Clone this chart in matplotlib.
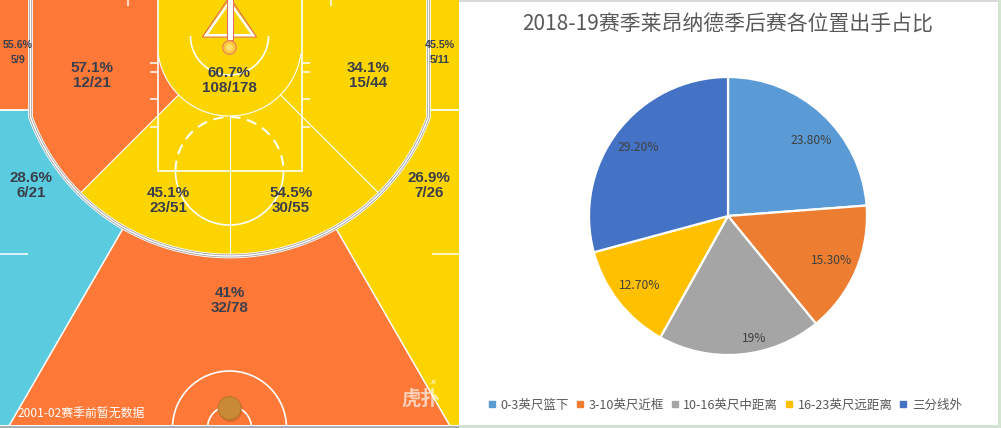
import numpy as np
import matplotlib
matplotlib.use('Agg')
import matplotlib.pyplot as plt
from matplotlib.patches import Polygon, Circle, Rectangle
from matplotlib.lines import Line2D

plt.rcParams['font.family'] = ['Noto Sans CJK SC', 'DejaVu Sans']

# ---------------- data ----------------
# shot chart zones (made / attempted)
zone_names = ['左侧底角三分', '左侧底线中距离', '篮下', '右侧底线中距离', '右侧底角三分',
              '左侧45度三分', '左侧肘区', '右侧肘区', '右侧45度三分', '弧顶三分']
zone_made = [5, 12, 108, 15, 5, 6, 23, 30, 7, 32]
zone_att = [9, 21, 178, 44, 11, 21, 51, 55, 26, 78]
court_note = '2001-02赛季前暂无数据'

# pie chart
pie_title = '2018-19赛季莱昂纳德季后赛各位置出手占比'
pie_labels = ['0-3英尺篮下', '3-10英尺近框', '10-16英尺中距离', '16-23英尺远距离', '三分线外']
pie_values = [23.8, 15.3, 19.0, 12.7, 29.2]
pie_texts = ['23.80%', '15.30%', '19%', '12.70%', '29.20%']

# ---------------- style / layout ----------------
ORANGE = '#FE7938'
YELLOW = '#FCD400'
CYAN = '#5BCCDF'
pie_colors = ['#5B9BD5', '#ED7D31', '#A5A5A5', '#FFC000', '#4472C4']
label_xy = [(18, 45), (92, 68), (229.5, 73), (368, 68), (440, 45),
            (31, 178), (168, 193), (291, 193), (429, 178), (229.5, 293)]
label_small = [True, False, False, False, True, False, False, False, False, False]
pie_label_dist = [0.81, 0.81, 0.90, 0.81, 0.81]
pie_label_rot = [-5, 0, 7, 0, 0]

W, H = 1001, 428
fig = plt.figure(figsize=(W / 100, H / 100), dpi=100)
fig.patch.set_facecolor('white')

# background axes for borders
bg = fig.add_axes([0, 0, 1, 1])
bg.set_xlim(0, W)
bg.set_ylim(H, 0)
bg.axis('off')
bg.add_patch(Rectangle((459, 0), 539, 1.6, color='#D9D9D9', lw=0))
bg.add_patch(Rectangle((997.5, 0), 4, H, color='#D3E6CF', lw=0))
bg.add_patch(Rectangle((459, 425), 542, 3, color='#D3E1D3', lw=0))
bg.add_patch(Rectangle((0, 425.5), 459, 3, color='#A9ADB1', lw=0))

# ---------------- court ----------------
ax = fig.add_axes([0, 3 / H, 459 / W, 425 / H])
ax.set_xlim(0, 459)
ax.set_ylim(425, 0)
ax.axis('off')
ax.add_patch(Rectangle((0, 0), 459, 430, color=YELLOW, lw=0, zorder=0))

cx, cy = 229.5, 44.0
R3, Rin = 212.0, 72.0
x3L, x3R = cx - 199, cx + 199
y_join = cy + np.sqrt(R3 ** 2 - 199 ** 2)
a_joinL = np.degrees(np.arctan2(y_join - cy, x3L - cx))


def arcp(r, a0, a1, n=80, c=(cx, cy)):
    a = np.radians(np.linspace(a0, a1, n))
    return np.column_stack([c[0] + r * np.cos(a), c[1] + r * np.sin(a)])


def ray(a, r):
    t = np.radians(a)
    return (cx + r * np.cos(t), cy + r * np.sin(t))


# left corner three (orange)
ax.add_patch(Rectangle((0, -2), 28.5, 111.5, color=ORANGE, lw=0, zorder=1))
# left wing three (cyan)
pts = [(-5, 110), (x3L, 110), (x3L, y_join)] + list(arcp(R3, a_joinL, 120)) + [ray(120, 480), (-5, 480)]
ax.add_patch(Polygon(pts, closed=True, color=CYAN, lw=0, zorder=1))
# top of key three (orange)
pts = list(arcp(R3, 120, 60)) + [ray(60, 480), ray(120, 480)]
ax.add_patch(Polygon(pts, closed=True, color=ORANGE, lw=0, zorder=1))
# left baseline mid-range (orange)
pts = [(x3L, -2), (157.5, -2), (157.5, cy)] + list(arcp(Rin, 180, 135)) + list(arcp(R3, 135, a_joinL)) + [(x3L, y_join)]
ax.add_patch(Polygon(pts, closed=True, color=ORANGE, lw=0, zorder=1))

WL = dict(color='white', solid_capstyle='butt', zorder=3)
# corner separators and side marks
ax.plot([0, 28.5], [109.5, 109.5], lw=1.3, **WL)
ax.plot([431, 459], [109.5, 109.5], lw=1.3, **WL)
ax.plot([0, 28], [254, 254], lw=1.1, **WL)
ax.plot([432, 459], [254, 254], lw=1.1, **WL)
ax.plot([128, 128], [0, 6], lw=1.1, **WL)
ax.plot([331, 331], [0, 6], lw=1.1, **WL)
# paint
ax.plot([157.5, 157.5, 302, 302], [0, 171, 171, 0], lw=1.2, color='white', zorder=3)
for yy in [63, 72, 99, 127]:
    ax.plot([150, 157.5], [yy, yy], lw=1.1, **WL)
    ax.plot([302, 309.5], [yy, yy], lw=1.1, **WL)
# restricted area
p = arcp(39, 0, 180, c=(cx, 36))
ax.plot(p[:, 0], p[:, 1], lw=1.2, **WL)
# inner zone arc
p = arcp(Rin, 8, 172)
ax.plot(p[:, 0], p[:, 1], lw=0.8, **WL)
# free throw circle
p = arcp(54, 0, 180, c=(cx, 171))
ax.plot(p[:, 0], p[:, 1], lw=1.2, **WL)
p = arcp(54, 180, 360, c=(cx, 171))
ax.plot(p[:, 0], p[:, 1], lw=1.5, color='white', dashes=(5, 3.2), zorder=3)
# zone rays
ax.plot([cx, cx], [cy + Rin, cy + R3], lw=0.8, **WL)
for a in (135, 45):
    q0, q1 = ray(a, Rin), ray(a, R3)
    ax.plot([q0[0], q1[0]], [q0[1], q1[1]], lw=0.8, **WL)
for a in (120, 60):
    q0, q1 = ray(a, R3), ray(a, 480)
    ax.plot([q0[0], q1[0]], [q0[1], q1[1]], lw=1.1, **WL)
# three point line (double line)
for dr, col, lw in [(0, 'white', 3.4), (-1.1, '#9C9C9C', 0.55), (1.1, '#9C9C9C', 0.55)]:
    xl, xr = x3L - dr, x3R + dr
    yj = cy + np.sqrt((R3 + dr) ** 2 - (199 + dr) ** 2)
    aL = np.degrees(np.arctan2(yj - cy, xl - cx))
    aR = np.degrees(np.arctan2(yj - cy, xr - cx))
    p = arcp(R3 + dr, aL, aR, n=200)
    xs = np.concatenate([[xl, xl], p[:, 0], [xr, xr]])
    ys = np.concatenate([[-3, yj], p[:, 1], [yj, -3]])
    ax.plot(xs, ys, color=col, lw=lw, zorder=4, solid_joinstyle='round')
# half court circles
for r in (57, 22):
    ax.add_patch(Circle((cx, 428), r, fill=False, ec='white', lw=1.2, zorder=3))
# ball
ax.add_patch(Circle((cx + 1, 410), 12, color='#6B4A20', alpha=0.25, lw=0, zorder=5))
ax.add_patch(Circle((cx, 408), 11.5, color='#C98A35', ec='#B07326', lw=0.6, zorder=6))
# backboard / basket
ax.add_patch(Polygon([(cx, -3), (cx - 27, 37), (cx + 27, 37)], closed=True,
                     fill=False, ec='#E2675E', lw=0.8, zorder=6))
ax.add_patch(Polygon([(cx, 2), (cx - 23.5, 35.2), (cx + 23.5, 35.2)], closed=True,
                     fill=False, ec='white', lw=1.8, zorder=6))
ax.add_patch(Rectangle((cx - 3, -2), 6, 42, fc='white', ec='#E2675E', lw=0.7, zorder=7))
ax.add_patch(Circle((cx, 47.5), 6.8, fc='#FDC93A', ec='#E9855A', lw=0.9, zorder=8))
ax.add_patch(Circle((cx, 47.5), 3.5, fc='#FFE070', ec='none', lw=0, zorder=8))

# zone labels
for (x, y), m, a, small in zip(label_xy, zone_made, zone_att, label_small):
    s = f"{100 * m / a:.1f}".rstrip('0').rstrip('.') + '%'
    fs = 7.7 if small else 10.9
    dy = 15 if small else 14.5
    ax.text(x, y, s, ha='center', va='center', fontsize=fs, fontweight='bold',
            color='#3B3F4B', family=['Liberation Sans'], zorder=9)
    ax.text(x, y + dy, f"{m}/{a}", ha='center', va='center', fontsize=fs, fontweight='bold',
            color='#3B3F4B', family=['Liberation Sans'], zorder=9)

ax.text(18, 414, court_note, ha='left', va='center', fontsize=8.6, color='white', zorder=9)
ax.text(421, 399, '虎扑', ha='center', va='center', fontsize=14, fontweight='bold',
        color='white', alpha=0.65, zorder=9)
ax.text(433, 383, 'JR', ha='center', va='center', fontsize=4, fontweight='bold',
        color='white', alpha=0.65, zorder=9)

# ---------------- pie ----------------
pcx, pcy, pr = 728, 216, 139
pax = fig.add_axes([(pcx - pr) / W, (H - pcy - pr) / H, 2 * pr / W, 2 * pr / H])
wedges, _ = pax.pie(pie_values, colors=pie_colors, startangle=90, counterclock=False,
                    wedgeprops=dict(edgecolor='white', linewidth=1.6))
pax.set_xlim(-1, 1)
pax.set_ylim(-1, 1)
pax.set_aspect('equal')
for w, t, d, rot in zip(wedges, pie_texts, pie_label_dist, pie_label_rot):
    ang = np.radians((w.theta1 + w.theta2) / 2 + rot)
    pax.text(d * np.cos(ang), d * np.sin(ang), t, ha='center', va='center',
             fontsize=8.7, color='#404040')

fig.text(pcx / W, 1 - 25 / H, pie_title, ha='center', va='center', fontsize=15, color='#595959')

handles = [Line2D([], [], marker='s', linestyle='none', markersize=4.8, color=c) for c in pie_colors]
fig.legend(handles, pie_labels, loc='center', bbox_to_anchor=(725 / W, 1 - 405 / H), ncol=5,
           frameon=False, fontsize=9, handlelength=0.6, handletextpad=0.4, columnspacing=0.55,
           labelcolor='#595959')

fig.savefig('out.png', dpi=100)
